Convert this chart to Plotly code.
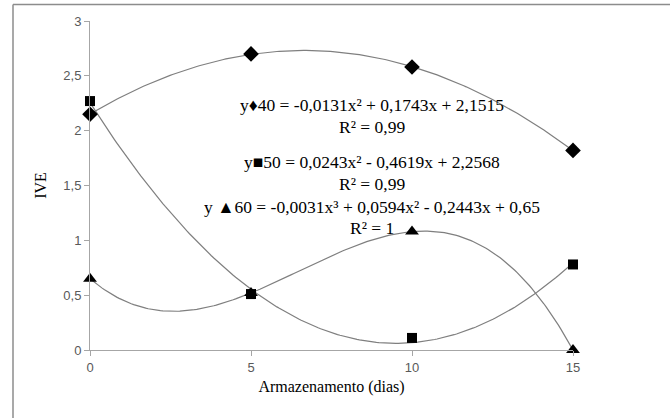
import numpy as np
import plotly.graph_objects as go

dias = [0, 5, 10, 15]
ive_40 = [2.15, 2.70, 2.58, 1.82]
ive_50 = [2.27, 0.51, 0.11, 0.78]
ive_60 = [0.65, 0.52, 1.08, 0.0]

eq_labels = [
    "y\u266640 = -0,0131x\u00b2 + 0,1743x + 2,1515",
    "R\u00b2 = 0,99",
    "y\u25a050 = 0,0243x\u00b2 - 0,4619x + 2,2568",
    "R\u00b2 = 0,99",
    "y \u25b260 = -0,0031x\u00b3 + 0,0594x\u00b2 - 0,2443x + 0,65",
    "R\u00b2 = 1",
]

x_tick_vals = [0, 5, 10, 15]
y_tick_vals = [0, 0.5, 1, 1.5, 2, 2.5, 3]

L, R, T, B = 90, 97, 21, 68
W, H = 670, 418
pw, ph = W - L - R, H - T - B

fig = go.Figure()
xs = np.linspace(0, 15, 200)
series = [(ive_40, 2, "diamond", 12), (ive_50, 2, "square", 10), (ive_60, 3, "triangle-up", 12)]
for ys, deg, sym, size in series:
    coef = np.polyfit(dias, ys, deg)
    fig.add_trace(go.Scatter(x=xs, y=np.polyval(coef, xs), mode="lines",
                             line=dict(color="#7f7f7f", width=1.2), cliponaxis=False,
                             showlegend=False, hoverinfo="skip"))
for ys, deg, sym, size in series:
    fig.add_trace(go.Scatter(x=dias, y=ys, mode="markers",
                             marker=dict(symbol=sym, size=size, color="black"),
                             cliponaxis=False, showlegend=False))

def px_x(p):
    return (p - L) / pw

def px_y(p):
    return (H - B - p) / ph

eq_y = [105, 127, 162, 184, 207, 228]
for txt, yy in zip(eq_labels, eq_y):
    fig.add_annotation(x=px_x(372), y=px_y(yy), xref="paper", yref="paper",
                       text=txt, showarrow=False, xanchor="center", yanchor="middle",
                       font=dict(family="Liberation Serif", size=17.5, color="black"))

# outer frame (top and left edges visible)
fig.add_shape(type="line", xref="paper", yref="paper",
              x0=px_x(13), x1=px_x(671), y0=px_y(4.5), y1=px_y(4.5),
              line=dict(color="#8c8c8c", width=1.5))
fig.add_shape(type="line", xref="paper", yref="paper",
              x0=px_x(13), x1=px_x(13), y0=px_y(4.5), y1=px_y(419),
              line=dict(color="#8c8c8c", width=1.5))

fig.update_layout(
    width=W, height=H, margin=dict(l=L, r=R, t=T, b=B),
    plot_bgcolor="white", paper_bgcolor="white",
    separators=",.",
    xaxis=dict(range=[0, 15], tickvals=x_tick_vals, showgrid=False, zeroline=False,
               showline=True, linecolor="#a6a6a6", linewidth=1,
               ticks="outside", ticklen=5, tickcolor="#a6a6a6",
               tickfont=dict(family="Liberation Sans", size=13, color="#595959"),
               title=dict(text="Armazenamento (dias)", standoff=7,
                          font=dict(family="Liberation Serif", size=16, color="black"))),
    yaxis=dict(range=[0, 3], tickvals=y_tick_vals, showgrid=False, zeroline=False,
               showline=True, linecolor="#a6a6a6", linewidth=1,
               ticks="outside", ticklen=5, tickcolor="#a6a6a6",
               tickfont=dict(family="Liberation Sans", size=13, color="#595959"),
               title=dict(text="IVE", standoff=12,
                          font=dict(family="Liberation Serif", size=16, color="black"))),
)

fig.write_html("out.html")
